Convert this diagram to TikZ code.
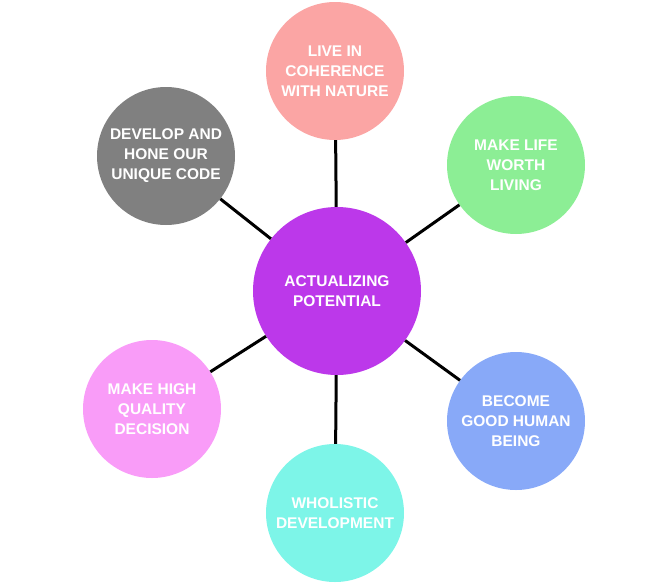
\documentclass[tikz,border=0pt]{standalone}
\usepackage{fontspec}
\setmainfont{Liberation Sans}[BoldFont={Liberation Sans Bold}]
\definecolor{cpink}{HTML}{FBA5A4}
\definecolor{cgreen}{HTML}{8CEE95}
\definecolor{cgray}{HTML}{808080}
\definecolor{cpurple}{HTML}{BC38EA}
\definecolor{cblue}{HTML}{88A9F8}
\definecolor{ccyan}{HTML}{7DF5E8}
\definecolor{cmagenta}{HTML}{F99CF8}
\begin{document}
\begin{tikzpicture}[x=1pt,y=-1pt,
  bubble/.style={circle,minimum size=138pt,inner sep=0pt,text=white,align=center,
    font={\bfseries\fontsize{15.5}{20}\selectfont}},
  hub/.style={bubble,minimum size=168pt},
  link/.style={draw=black,line width=3pt}]
\useasboundingbox (0,0) rectangle (670,582);
\node[hub,fill=cpurple] (c) at (337,291) {ACTUALIZING\\POTENTIAL};
\node[bubble,fill=cpink] (n1) at (335,71) {LIVE IN\\COHERENCE\\WITH NATURE};
\node[bubble,fill=cgreen] (n2) at (516,165) {MAKE LIFE\\WORTH\\LIVING};
\node[bubble,fill=cblue] (n3) at (516,421) {BECOME\\GOOD HUMAN\\BEING};
\node[bubble,fill=ccyan] (n4) at (335,513) {WHOLISTIC\\DEVELOPMENT};
\node[bubble,fill=cmagenta] (n5) at (152,409) {MAKE HIGH\\QUALITY\\DECISION};
\node[bubble,fill=cgray] (n6) at (166,156) {DEVELOP AND\\HONE OUR\\UNIQUE CODE};
\foreach \n in {n1,n2,n3,n4,n5,n6} \draw[link] (c) -- (\n);
\end{tikzpicture}
\end{document}
